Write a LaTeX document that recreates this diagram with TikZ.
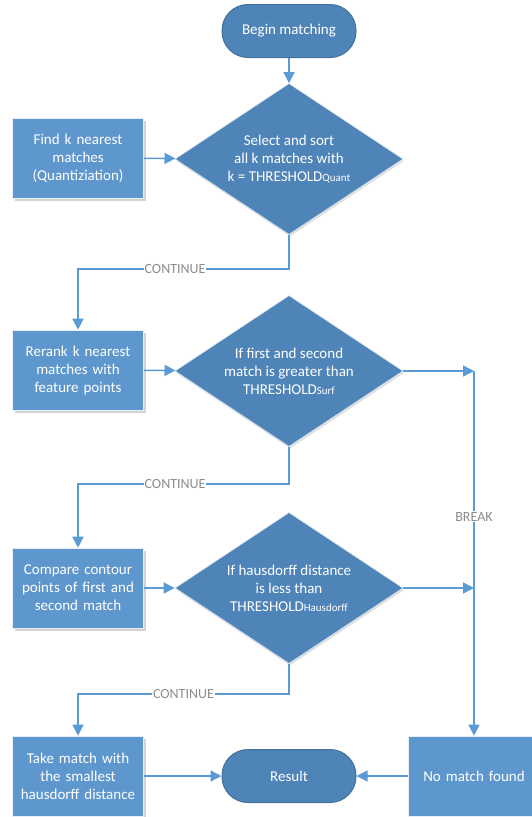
\documentclass[tikz,border=0pt]{standalone}
\usepackage{fontspec}
\setmainfont{Carlito}
\usetikzlibrary{shapes.geometric,arrows.meta,shadows}

\definecolor{boxblue}{HTML}{5E97CD}
\definecolor{decblue}{HTML}{4F84B9}
\definecolor{edgeblue}{HTML}{41719C}
\definecolor{lineblue}{HTML}{5B9BD5}

\tikzset{
  every path/.style={line width=1.4pt},
  procbox/.style={rectangle, fill=boxblue, draw=white!85!boxblue, line width=0.6pt,
    minimum width=131pt, minimum height=80pt, text width=124pt, align=center,
    text=white, font=\fontsize{15}{18}\selectfont,
    drop shadow={shadow xshift=2pt, shadow yshift=-3pt, opacity=0.35}},
  decision/.style={diamond, aspect=1.5, fill=decblue, draw=white!80!decblue, line width=0.6pt,
    minimum width=228pt, minimum height=151pt, inner sep=0pt, align=center,
    text=white, font=\fontsize{15}{18}\selectfont,
    drop shadow={shadow xshift=1pt, shadow yshift=-2pt, opacity=0.25}},
  terminal/.style={rectangle, rounded corners=26pt, fill=decblue, draw=edgeblue,
    line width=1pt, minimum width=134pt, minimum height=53pt,
    text=white, font=\fontsize{15}{18}\selectfont},
  flow/.style={draw=lineblue, -{Triangle[length=11pt,width=11pt]}},
  lbl/.style={fill=white, text=gray!90, inner sep=1pt, font=\fontsize{14}{16}\selectfont}
}

\begin{document}
\begin{tikzpicture}[x=1pt,y=1pt]
\useasboundingbox (0,0) rectangle (532,-817);

% nodes
\node[terminal] (begin) at (289,-31) {Begin matching};
\node[decision] (d1) at (289,-159) {Select and sort\\all k matches with\\k = THRESHOLD{\fontsize{11}{12}\selectfont Quant}};
\node[procbox] (find) at (78,-158) {Find k nearest\\matches\\(Quantiziation)};
\node[procbox] (rerank) at (78,-370) {Rerank k nearest\\matches with\\feature points};
\node[decision] (d2) at (289,-371) {If first and second\\match is greater than\\THRESHOLD{\fontsize{11}{12}\selectfont Surf}};
\node[procbox] (compare) at (78,-588) {Compare contour\\points of first and\\second match};
\node[decision] (d3) at (289,-588) {If hausdorff distance\\is less than\\THRESHOLD{\fontsize{11}{12}\selectfont Hausdorff}};
\node[procbox] (take) at (78,-776) {Take match with\\the smallest\\hausdorff distance};
\node[terminal] (result) at (289,-776) {Result};
\node[procbox] (nomatch) at (474,-776) {No match found};
\coordinate (j2) at (474,-371);
\coordinate (j3) at (474,-588);

% connectors
\draw[flow] (begin) -- (d1);
\draw[flow] (find) -- (d1);
\draw[flow] (d1.south) -- ++(0,-34) -| node[pos=0.27,lbl]{CONTINUE} (rerank.north);
\draw[flow] (rerank) -- (d2);
\draw[flow] (d2.south) -- ++(0,-37) -| node[pos=0.27,lbl]{CONTINUE} (compare.north);
\draw[flow] (compare) -- (d3);
\draw[flow] (d3.south) -- ++(0,-30) -| node[pos=0.25,lbl]{CONTINUE} (take.north);
\draw[flow] (d2.east) -- (j2);
\draw[flow] (d3.east) -- (j3);
\draw[flow] (j2) -- node[pos=0.4,lbl]{BREAK} (nomatch.north);
\draw[flow] (take) -- (result);
\draw[flow] (nomatch) -- (result);
\end{tikzpicture}
\end{document}
